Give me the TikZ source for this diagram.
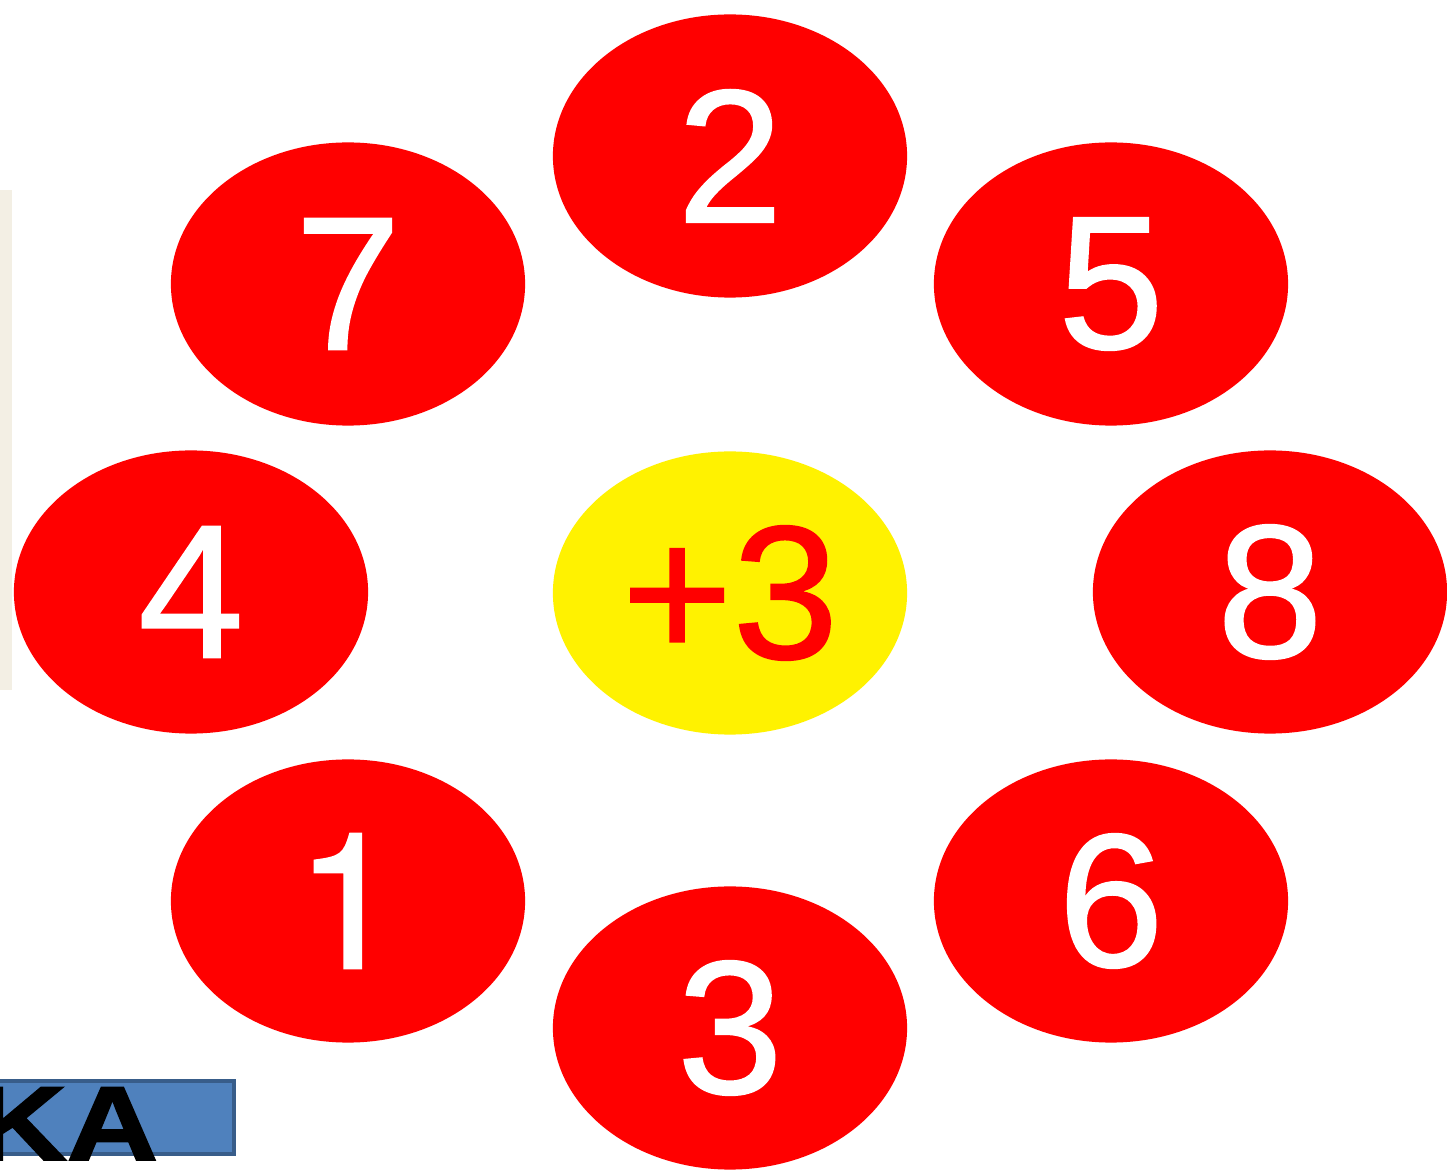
\documentclass[tikz,border=0pt]{standalone}
\usepackage{fontspec}
\setmainfont{Liberation Sans}
\newfontfamily\kafont{Liberation Sans Bold}[FakeBold=1.6]
\newfontfamily\digfont{Liberation Sans}[FakeBold=1.0]
\newfontfamily\onefont{TeX Gyre Heros}[FakeBold=1.0]
\usetikzlibrary{shapes.geometric}
\definecolor{kablue}{HTML}{4F81BD}
\definecolor{kaedge}{HTML}{385D8A}
\definecolor{strip}{HTML}{F3EFE4}
\tikzset{
  redball/.style={ellipse, fill=red, draw=none, minimum width=3.54cm, minimum height=2.83cm, inner sep=0pt,
    text=white, font=\fontsize{54}{64}\digfont},
  yellowball/.style={ellipse, fill=yellow, draw=none, minimum width=3.54cm, minimum height=2.83cm, inner sep=0pt,
    text=red, font=\fontsize{54}{64}\digfont},
}
\begin{document}
\begin{tikzpicture}[x=0.01cm,y=-0.01cm]
\useasboundingbox (0,0) rectangle (1447,1173);
\clip (0,0) rectangle (1447,1173);
\fill[white] (0,0) rectangle (1447,1173);
\fill[strip] (0,190) rectangle (12,690);
\node[redball] (n2) at (730,156) {2};
\node[redball] (n7) at (348,284) {7};
\node[redball] (n5) at (1111,284) {5};
\node[redball] (n4) at (191,592) {4};
\node[yellowball] (c) at (730,593) {+3};
\node[redball] (n8) at (1270,592) {8};
\node[redball, font=\fontsize{54}{64}\onefont] (n1) at (348,901) {1};
\node[redball] (n6) at (1111,901) {6};
\node[redball] (n3) at (730,1028) {3};
\node[draw=kaedge, fill=kablue, line width=1.2pt, minimum width=2.5cm, minimum height=0.73cm, anchor=north west, inner sep=0pt] (box) at (-18,1079) {};
\node[anchor=base east, inner sep=0pt, xscale=1.2, font=\fontsize{30}{36}\kafont, text=black] (ka) at (159,1160) {KA};
\end{tikzpicture}
\end{document}
